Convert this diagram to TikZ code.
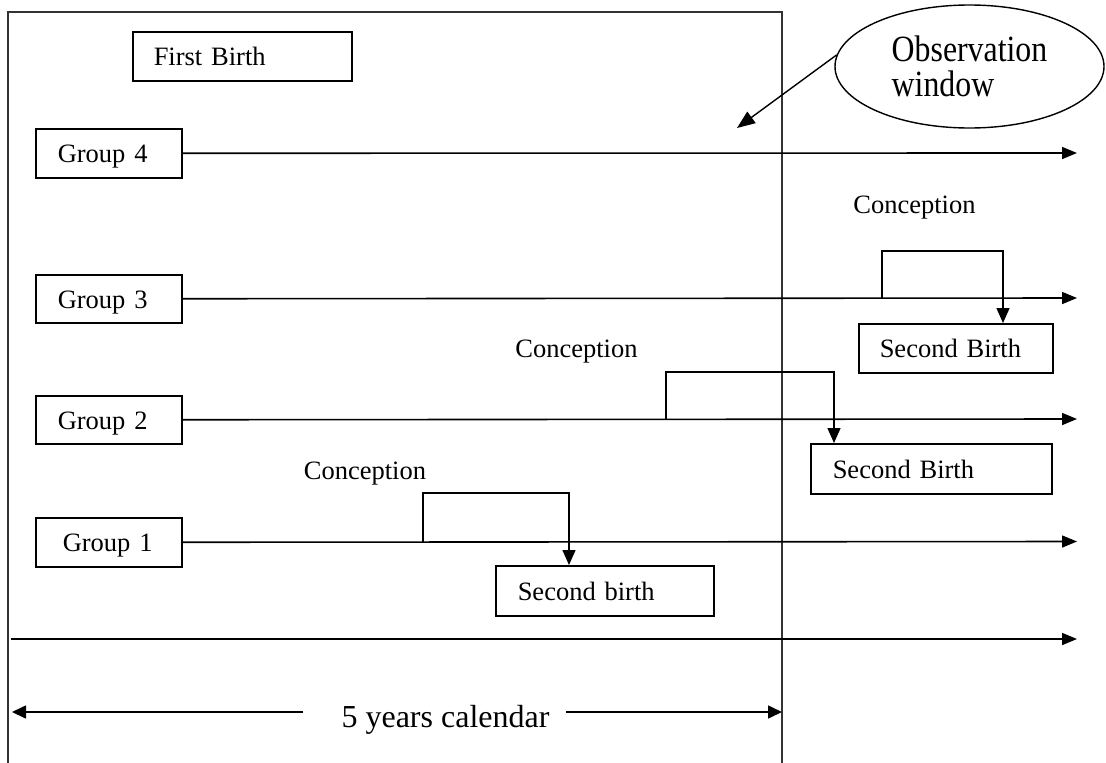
\documentclass[tikz,border=0pt]{standalone}
\usepackage{fontspec}
\setmainfont{Liberation Serif}
\newfontfamily\obsfont[FakeStretch=0.86]{Liberation Serif}
\usetikzlibrary{arrows.meta,shapes.geometric}
\newcommand{\lbl}{\fontsize{26.5}{32}\selectfont}
\begin{document}
\begin{tikzpicture}[x=1pt,y=-1pt,
  frame/.style={line width=1.1pt, draw=black!80},
  box/.style={draw, line width=1.5pt, rectangle, anchor=north west, inner ysep=0pt,
              align=left, font=\lbl, text height=19pt, text depth=0pt},
  timeline/.style={line width=1.6pt, -{Triangle[length=15pt,width=12pt]}},
  bracket/.style={line width=1.5pt, -{Triangle[length=15pt,width=13pt]}},
  caltip/.style={line width=1.6pt, -{Triangle[length=14pt,width=13pt]}},
  note/.style={font=\lbl, anchor=base, inner sep=0pt}]

\useasboundingbox (0,0) rectangle (1106,763);

% observation frame, open at the bottom
\draw[frame] (8,763) -- (8,12) -- (782,12) -- (782,763);

% labelled boxes
\node[box, inner xsep=21pt, text width=177pt, minimum height=49pt] (fb) at (132,31) {First Birth};
\node[box, inner xsep=22pt, text width=102pt, minimum height=49pt] (g4) at (35,128) {Group 4};
\node[box, inner xsep=22pt, text width=102pt, minimum height=48pt] (g3) at (35,274) {Group 3};
\node[box, inner xsep=22pt, text width=102pt, minimum height=48pt] (g2) at (35,395) {Group 2};
\node[box, inner xsep=27pt, text width=92pt, minimum height=49pt] (g1) at (35,517) {Group 1};
\node[box, inner xsep=21pt, text width=152pt, minimum height=49pt] (sb3) at (858,323) {Second Birth};
\node[box, inner xsep=22pt, text width=197pt, minimum height=50pt] (sb2) at (810,443) {Second Birth};
\node[box, inner xsep=22pt, text width=174pt, minimum height=50pt] (sb1) at (495,565) {Second birth};

% observation window callout
\node[draw, ellipse, line width=1.4pt, minimum width=269pt, minimum height=123pt,
      inner sep=0pt, align=left, font=\obsfont\fontsize{37}{35}\selectfont] (obs) at (969.5,66.5)
      {Observation\\window};
\coordinate (obsTip) at (737,128);
\draw[line width=1.4pt, -{Triangle[length=18pt,width=14pt]}] (obs.175) -- (obsTip);

% timeline ends
\coordinate (e4) at (1077,153);
\coordinate (e3) at (1077,298);
\coordinate (e2) at (1077,419);
\coordinate (e1) at (1077,541.5);
\draw[timeline] (g4.east) -- (e4);
\draw[timeline] (g3.east) -- (e3);
\draw[timeline] (g2.east) -- (e2);
\draw[timeline] (g1.east) -- (e1);

% conception brackets
\coordinate (c3a) at (882,298);
\coordinate (c3b) at (1003,251);
\draw[bracket] (c3a) |- (c3b) -- (c3b |- sb3.north);
\node[note] (con3) at (914.5,213) {Conception};

\coordinate (c2a) at (666,419);
\coordinate (c2b) at (834,372);
\draw[bracket] (c2a) |- (c2b) -- (c2b |- sb2.north);
\node[note] (con2) at (576.5,357) {Conception};

\coordinate (c1a) at (423,541.5);
\coordinate (c1b) at (569,493);
\draw[bracket] (c1a) |- (c1b) -- (c1b |- sb1.north);
\node[note] (con1) at (365,479) {Conception};

% calendar axis
\coordinate (ax0) at (11,639);
\coordinate (ax1) at (1077,639);
\draw[timeline] (ax0) -- (ax1);

% five-year span
\node[font=\fontsize{32}{38}\selectfont, anchor=base, inner sep=0pt] (cal) at (445.5,727) {5 years calendar};
\coordinate (calL0) at (303,712);
\coordinate (calL) at (12,712);
\coordinate (calR0) at (566,712);
\coordinate (calR) at (782,712);
\draw[caltip] (calL0) -- (calL);
\draw[caltip] (calR0) -- (calR);
\end{tikzpicture}
\end{document}
